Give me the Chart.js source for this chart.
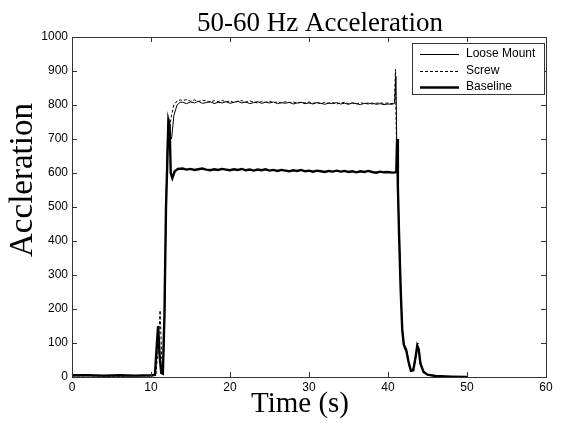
<!DOCTYPE html>
<html>
<head>
<meta charset="utf-8">
<script src="https://cdn.jsdelivr.net/npm/chart.js@4/dist/chart.umd.min.js"></script>
<style>
html,body{margin:0;padding:0;background:#fff;}
#wrap{width:561px;height:423px;position:relative;}
</style>
</head>
<body>
<div id="wrap"><canvas id="c" width="561" height="423"></canvas></div>
<script>
// ---- data ----
const chartTitle = "50-60 Hz Acceleration";
const xTitle = "Time (s)";
const yTitle = "Accleration";
const seriesNames = ["Loose Mount", "Screw", "Baseline"];
const xTicks = [0, 10, 20, 30, 40, 50, 60];
const yTicks = [0, 100, 200, 300, 400, 500, 600, 700, 800, 900, 1000];

const plateauTime = [14, 14.5, 15, 15.5, 16, 16.5, 17, 17.5, 18, 18.5, 19, 19.5, 20, 20.5, 21, 21.5, 22, 22.5, 23, 23.5, 24, 24.5, 25, 25.5, 26, 26.5, 27, 27.5, 28, 28.5, 29, 29.5, 30, 30.5, 31, 31.5, 32, 32.5, 33, 33.5, 34, 34.5, 35, 35.5, 36, 36.5, 37, 37.5, 38, 38.5, 39, 39.5, 40, 40.5];

// Loose Mount
const looseStartT = [0, 2, 4, 6, 8, 10, 10.5, 10.7, 10.9, 11.1, 11.3, 11.5, 11.7, 11.9, 12.1, 12.25, 12.45, 12.6, 12.9, 13.3, 13.7];
const looseStartY = [4, 4, 3, 4, 3, 4, 5, 60, 145, 70, 15, 10, 150, 500, 720, 760, 705, 700, 770, 800, 808];
const loosePlateau = [808, 804, 809, 806, 811, 805, 807, 810, 804, 808, 806, 810, 805, 808, 811, 806, 809, 804, 807, 810, 805, 808, 806, 809, 804, 807, 805, 808, 803, 806, 808, 804, 806, 803, 807, 805, 802, 806, 804, 807, 803, 805, 802, 806, 804, 801, 805, 803, 806, 802, 804, 801, 803, 802];
const looseEndT = [40.85, 41.0, 41.1, 41.3, 41.5, 41.7, 41.9, 42.2, 42.5, 42.8, 43.1, 43.4, 43.7, 43.9, 44.1, 44.5, 45, 46, 48, 50];
const looseEndY = [805, 885, 700, 520, 360, 200, 110, 85, 60, 22, 18, 40, 90, 85, 40, 15, 7, 3, 1, 0];

// Screw
const screwStartT = [0, 2, 4, 6, 8, 10, 10.6, 10.9, 11.15, 11.35, 11.55, 11.75, 11.95, 12.15, 12.4, 12.6, 12.9, 13.3, 13.7];
const screwStartY = [3, 4, 3, 3, 4, 3, 5, 80, 196, 60, 8, 200, 560, 700, 740, 770, 800, 812, 815];
const screwPlateau = [813, 816, 811, 815, 810, 814, 812, 808, 813, 810, 814, 809, 812, 807, 811, 813, 808, 812, 809, 806, 810, 808, 811, 807, 809, 806, 810, 807, 809, 805, 808, 806, 809, 805, 807, 804, 808, 805, 807, 803, 806, 808, 804, 806, 803, 807, 804, 806, 803, 805, 807, 804, 806, 804];
const screwEndT = [40.8, 40.95, 41.05, 41.25, 41.45, 41.65, 41.85, 42.1, 42.4, 42.7, 43.0, 43.3, 43.6, 43.8, 44.0, 44.3, 44.8, 45.5, 47, 50];
const screwEndY = [808, 905, 720, 540, 380, 220, 120, 80, 75, 30, 15, 30, 80, 100, 60, 25, 10, 4, 1, 0];

// Baseline
const baseStartT = [0, 2, 4, 6, 8, 10, 10.5, 10.75, 10.9, 11.1, 11.3, 11.5, 11.7, 11.9, 12.05, 12.2, 12.35, 12.5, 12.7, 13.0, 13.4];
const baseStartY = [5, 5, 4, 5, 4, 5, 6, 100, 150, 60, 12, 10, 180, 500, 620, 755, 740, 600, 585, 605, 612];
const basePlateau = [613, 610, 612, 609, 611, 613, 610, 608, 611, 609, 612, 610, 608, 611, 609, 612, 608, 610, 607, 610, 608, 611, 607, 609, 606, 609, 607, 605, 608, 606, 609, 605, 607, 604, 607, 605, 603, 606, 604, 607, 604, 606, 603, 605, 602, 605, 603, 606, 603, 601, 604, 602, 603, 601];
const baseEndT = [40.9, 41.05, 41.15, 41.25, 41.4, 41.6, 41.8, 42.0, 42.3, 42.6, 42.9, 43.2, 43.5, 43.7, 43.9, 44.1, 44.5, 45, 46, 48, 50];
const baseEndY = [602, 605, 700, 560, 420, 260, 140, 95, 80, 45, 18, 20, 60, 92, 80, 40, 15, 7, 3, 1, 0];

// ---- build point lists ----
function pts(tA, yA) { return tA.map((t, i) => ({ x: t, y: yA[i] })); }
function series(st, sy, py, et, ey) {
  return pts(st, sy).concat(pts(plateauTime, py)).concat(pts(et, ey));
}
const looseData = series(looseStartT, looseStartY, loosePlateau, looseEndT, looseEndY);
const screwData = series(screwStartT, screwStartY, screwPlateau, screwEndT, screwEndY);
const baseData = series(baseStartT, baseStartY, basePlateau, baseEndT, baseEndY);

// ---- plugins ----
const boxPlugin = {
  id: 'boxTicks',
  afterDraw(chart) {
    const ctx = chart.ctx, a = chart.chartArea;
    const xs = chart.scales.x, ys = chart.scales.y;
    ctx.save();
    ctx.strokeStyle = '#333';
    ctx.lineWidth = 1;
    ctx.strokeRect(Math.round(a.left) + 0.5, Math.round(a.top) + 0.5, Math.round(a.right - a.left), Math.round(a.bottom - a.top));
    ctx.beginPath();
    const tl = 5;
    xTicks.forEach(v => {
      const px = Math.round(xs.getPixelForValue(v)) + 0.5;
      ctx.moveTo(px, a.bottom); ctx.lineTo(px, a.bottom - tl);
      ctx.moveTo(px, a.top); ctx.lineTo(px, a.top + tl);
    });
    yTicks.forEach(v => {
      const py = Math.round(ys.getPixelForValue(v)) + 0.5;
      ctx.moveTo(a.left, py); ctx.lineTo(a.left + tl, py);
      ctx.moveTo(a.right, py); ctx.lineTo(a.right - tl, py);
    });
    ctx.stroke();

    // legend box
    const lx = 412, ly = 43, lw = 132, lh = 51;
    ctx.fillStyle = '#fff';
    ctx.fillRect(lx, ly, lw, lh);
    ctx.strokeStyle = '#333';
    ctx.strokeRect(lx + 0.5, ly + 0.5, lw, lh);
    ctx.font = '12px "Liberation Sans", Arial, sans-serif';
    ctx.textBaseline = 'middle';
    ctx.textAlign = 'left';
    chart.data.datasets.forEach((ds, i) => {
      const yy = ly + 11 + i * 16.5;
      ctx.beginPath();
      ctx.strokeStyle = ds.borderColor;
      ctx.lineWidth = ds.borderWidth;
      ctx.setLineDash(ds.borderDash || []);
      ctx.moveTo(lx + 8, Math.round(yy) + 0.5);
      ctx.lineTo(lx + 47, Math.round(yy) + 0.5);
      ctx.stroke();
      ctx.setLineDash([]);
      ctx.fillStyle = '#000';
      ctx.fillText(ds.label, lx + 54, yy);
    });

    // titles
    ctx.fillStyle = '#000';
    ctx.font = '27px "Liberation Serif", "DejaVu Serif", serif';
    ctx.textAlign = 'center';
    ctx.textBaseline = 'alphabetic';
    ctx.fillText(chartTitle, 320, 31);

    ctx.font = '29px "Liberation Serif", "DejaVu Serif", serif';
    ctx.textBaseline = 'middle';
    ctx.fillText(xTitle, 300, 404);

    ctx.save();
    ctx.translate(23, 180);
    ctx.rotate(-Math.PI / 2);
    ctx.font = '33px "Liberation Serif", "DejaVu Serif", serif';
    ctx.textBaseline = 'middle';
    ctx.fillText(yTitle, 0, 0);
    ctx.restore();
    ctx.restore();
  }
};

const tickFont = { family: '"Liberation Sans", Arial, sans-serif', size: 12 };

new Chart(document.getElementById('c'), {
  type: 'line',
  data: {
    datasets: [
      { label: seriesNames[0], data: looseData, borderColor: '#000', borderWidth: 1, pointRadius: 0, fill: false, tension: 0 },
      { label: seriesNames[1], data: screwData, borderColor: '#000', borderWidth: 1, borderDash: [3, 2], pointRadius: 0, fill: false, tension: 0 },
      { label: seriesNames[2], data: baseData, borderColor: '#000', borderWidth: 2.4, pointRadius: 0, fill: false, tension: 0 }
    ]
  },
  options: {
    responsive: false,
    animation: false,
    devicePixelRatio: 1,
    layout: { padding: { top: 37, right: 15, left: 0, bottom: 0 } },
    plugins: { legend: { display: false }, title: { display: false }, tooltip: { enabled: false } },
    scales: {
      x: {
        type: 'linear', min: 0, max: 60,
        afterBuildTicks: s => { s.ticks = xTicks.map(v => ({ value: v })); },
        afterFit: s => { s.height = 46; },
        grid: { display: false, drawTicks: false, tickLength: 0 }, border: { display: false },
        ticks: { color: '#000', font: tickFont, padding: 3, maxRotation: 0, callback: v => String(v) }
      },
      y: {
        type: 'linear', min: 0, max: 1000,
        afterBuildTicks: s => { s.ticks = yTicks.map(v => ({ value: v })); },
        afterFit: s => { s.width = 72; },
        grid: { display: false, drawTicks: false, tickLength: 0 }, border: { display: false },
        ticks: { color: '#000', font: tickFont, padding: 4, callback: v => String(v) }
      }
    }
  },
  plugins: [boxPlugin]
});
</script>
</body>
</html>
